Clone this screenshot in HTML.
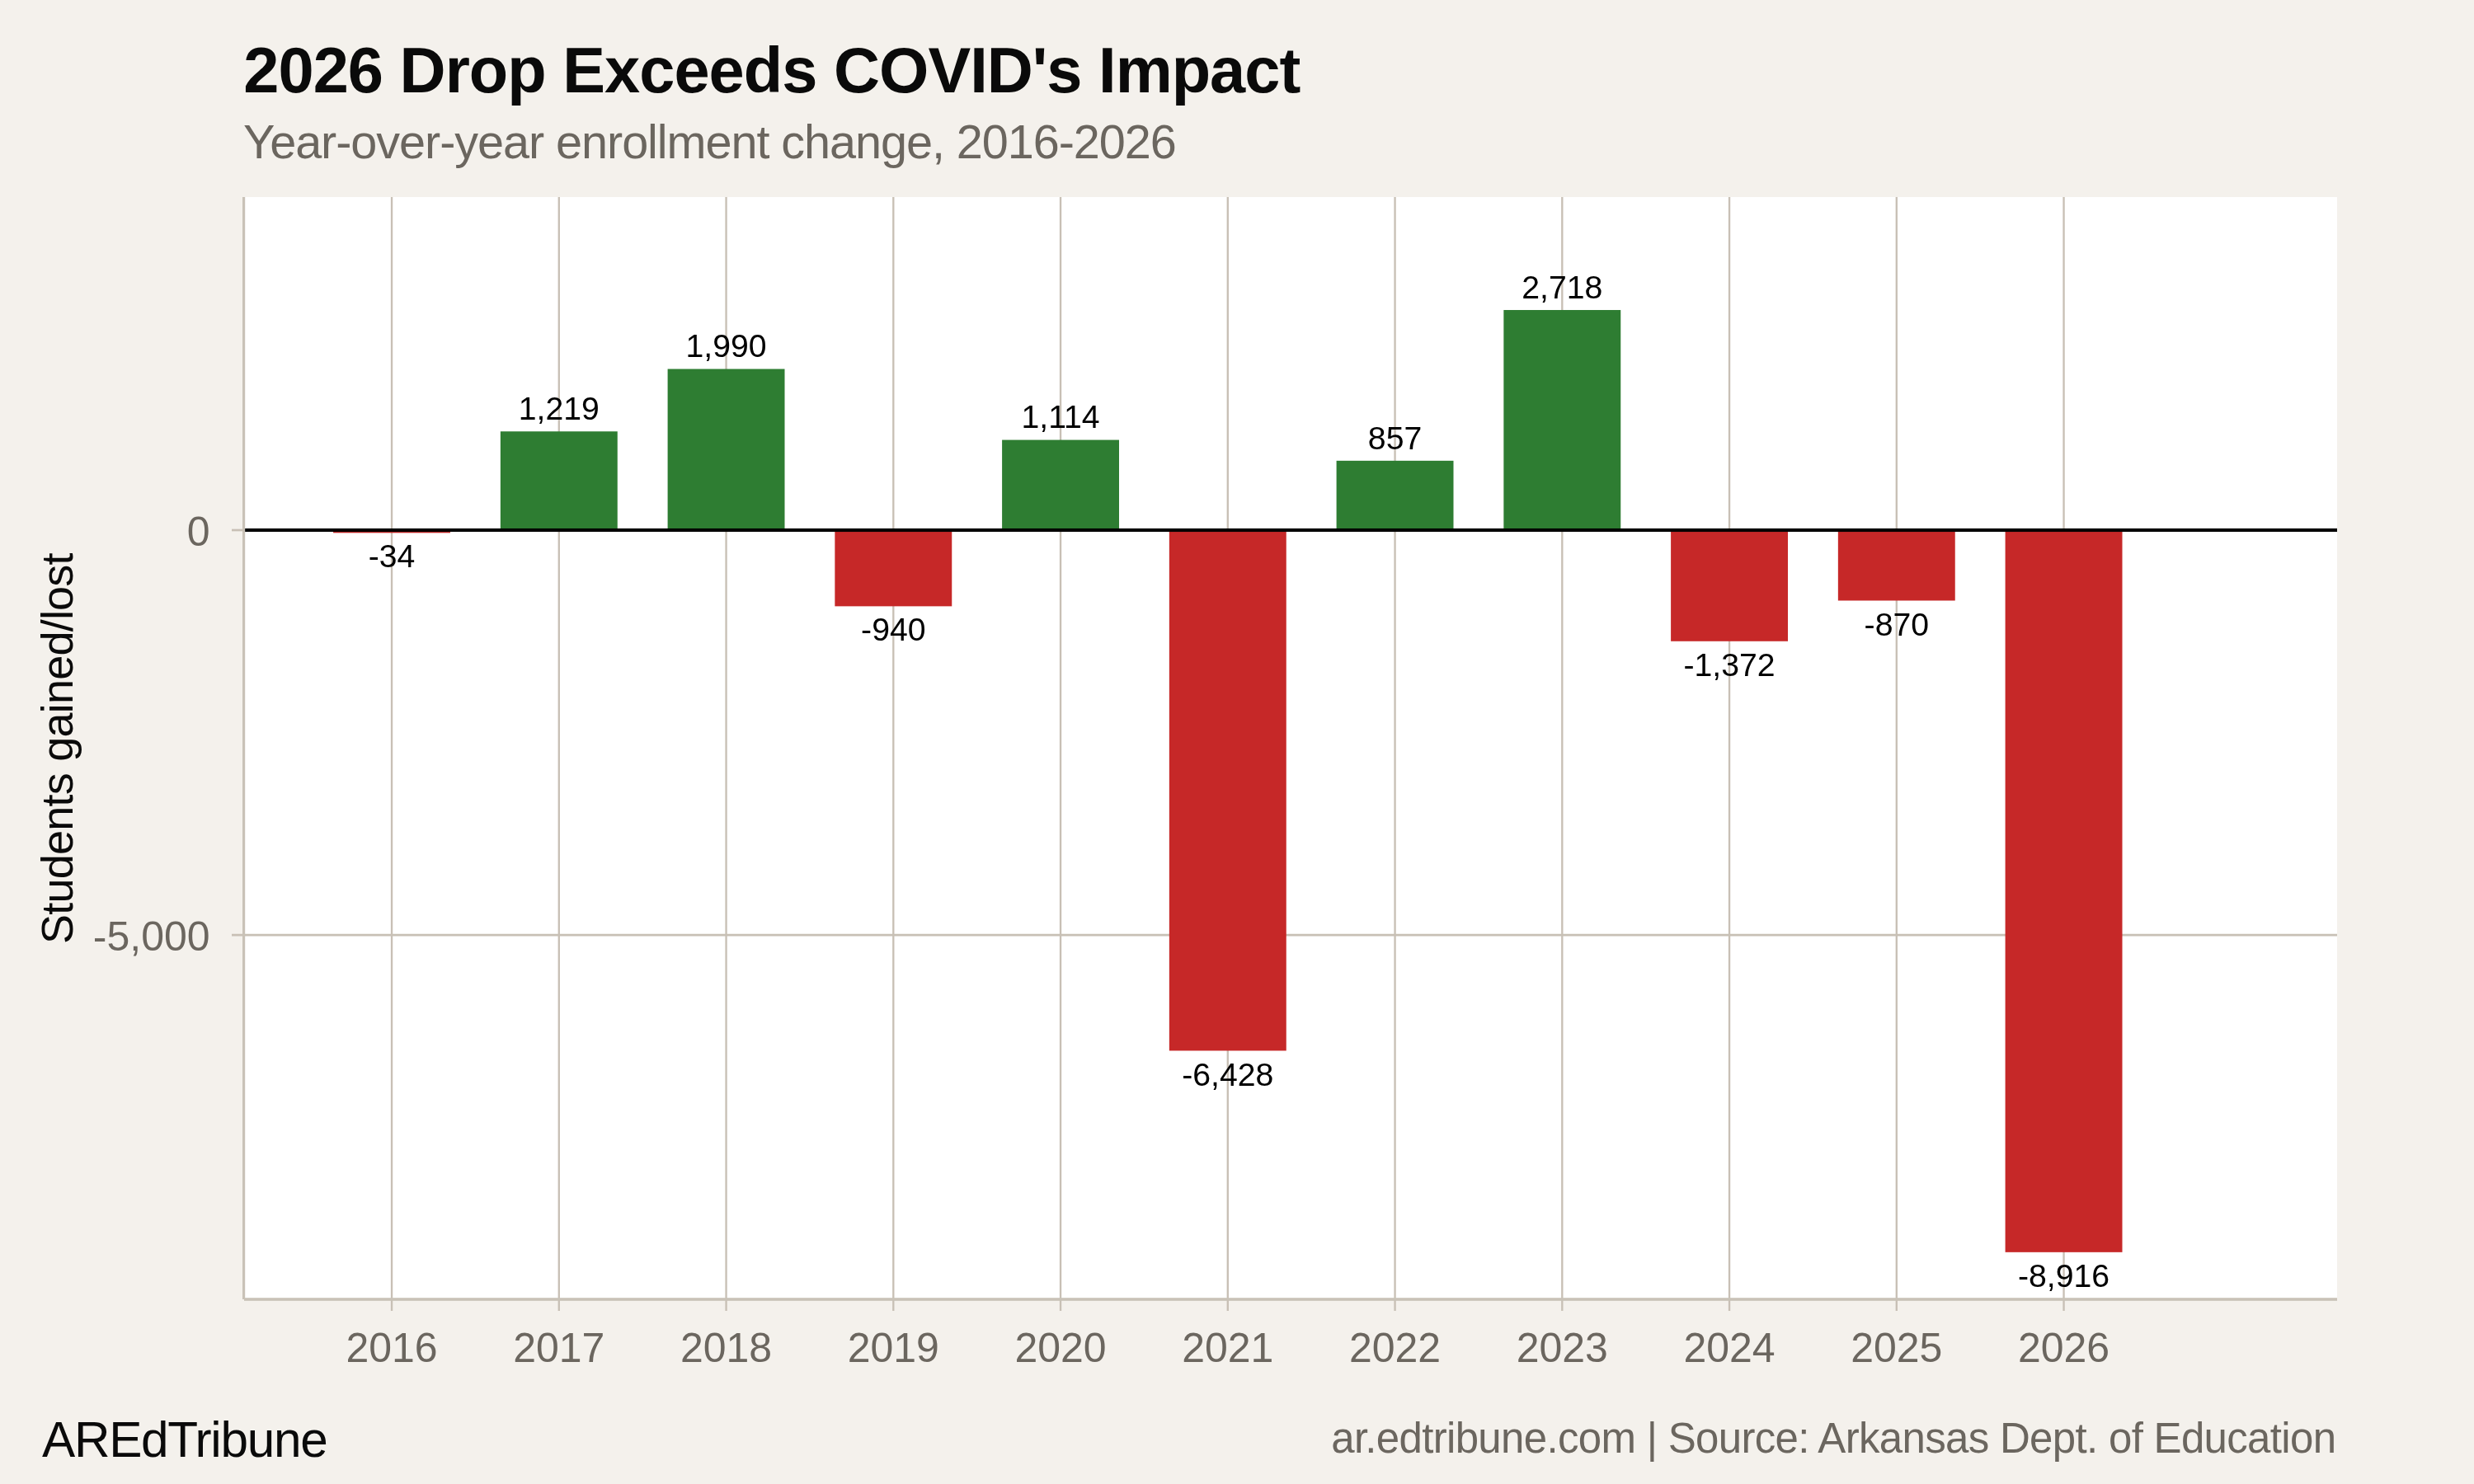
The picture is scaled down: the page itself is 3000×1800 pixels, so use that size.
<!DOCTYPE html><html><head><meta charset="utf-8"><style>html,body{margin:0;padding:0;background:#F4F1EC;overflow:hidden;}svg{display:block;will-change:transform;}text{font-family:"Liberation Sans",sans-serif;}</style></head><body>
<svg width="3000" height="1800" viewBox="0 0 3000 1800">
<rect x="0" y="0" width="3000" height="1800" fill="#F4F1EC"/>
<rect x="296" y="239" width="2538" height="1337" fill="#FFFFFF"/>
<line x1="475.05" y1="239" x2="475.05" y2="1590" stroke="#C8C0B5" stroke-width="2.35"/>
<line x1="677.80" y1="239" x2="677.80" y2="1590" stroke="#C8C0B5" stroke-width="2.35"/>
<line x1="880.55" y1="239" x2="880.55" y2="1590" stroke="#C8C0B5" stroke-width="2.35"/>
<line x1="1083.30" y1="239" x2="1083.30" y2="1590" stroke="#C8C0B5" stroke-width="2.35"/>
<line x1="1286.05" y1="239" x2="1286.05" y2="1590" stroke="#C8C0B5" stroke-width="2.35"/>
<line x1="1488.80" y1="239" x2="1488.80" y2="1590" stroke="#C8C0B5" stroke-width="2.35"/>
<line x1="1691.55" y1="239" x2="1691.55" y2="1590" stroke="#C8C0B5" stroke-width="2.35"/>
<line x1="1894.30" y1="239" x2="1894.30" y2="1590" stroke="#C8C0B5" stroke-width="2.35"/>
<line x1="2097.05" y1="239" x2="2097.05" y2="1590" stroke="#C8C0B5" stroke-width="2.35"/>
<line x1="2299.80" y1="239" x2="2299.80" y2="1590" stroke="#C8C0B5" stroke-width="2.35"/>
<line x1="2502.55" y1="239" x2="2502.55" y2="1590" stroke="#C8C0B5" stroke-width="2.35"/>
<line x1="281" y1="1134.17" x2="2834" y2="1134.17" stroke="#C8C0B5" stroke-width="2.7"/>
<line x1="281" y1="643.02" x2="296" y2="643.02" stroke="#C8C0B5" stroke-width="2.7"/>
<rect x="404.10" y="643.02" width="141.90" height="3.34" fill="#C62828"/>
<rect x="606.85" y="523.28" width="141.90" height="119.74" fill="#2E7D32"/>
<rect x="809.60" y="447.54" width="141.90" height="195.48" fill="#2E7D32"/>
<rect x="1012.35" y="643.02" width="141.90" height="92.34" fill="#C62828"/>
<rect x="1215.10" y="533.59" width="141.90" height="109.43" fill="#2E7D32"/>
<rect x="1417.85" y="643.02" width="141.90" height="631.42" fill="#C62828"/>
<rect x="1620.60" y="558.84" width="141.90" height="84.18" fill="#2E7D32"/>
<rect x="1823.35" y="376.03" width="141.90" height="266.99" fill="#2E7D32"/>
<rect x="2026.10" y="643.02" width="141.90" height="134.77" fill="#C62828"/>
<rect x="2228.85" y="643.02" width="141.90" height="85.46" fill="#C62828"/>
<rect x="2431.60" y="643.02" width="141.90" height="875.82" fill="#C62828"/>
<rect x="296" y="640.97" width="2538" height="4.1" fill="#000000"/>
<rect x="294" y="239" width="3.2" height="1337" fill="#C9C2B7"/>
<rect x="296" y="1574.2" width="2538" height="3.6" fill="#C9C2B7"/>
<text x="475.05" y="688.46" font-size="39.2" fill="#000" text-anchor="middle">-34</text>
<text x="677.80" y="509.18" font-size="39.2" fill="#000" text-anchor="middle">1,219</text>
<text x="880.55" y="433.44" font-size="39.2" fill="#000" text-anchor="middle">1,990</text>
<text x="1083.30" y="777.46" font-size="39.2" fill="#000" text-anchor="middle">-940</text>
<text x="1286.05" y="519.49" font-size="39.2" fill="#000" text-anchor="middle">1,114</text>
<text x="1488.80" y="1316.54" font-size="39.2" fill="#000" text-anchor="middle">-6,428</text>
<text x="1691.55" y="544.74" font-size="39.2" fill="#000" text-anchor="middle">857</text>
<text x="1894.30" y="361.93" font-size="39.2" fill="#000" text-anchor="middle">2,718</text>
<text x="2097.05" y="819.89" font-size="39.2" fill="#000" text-anchor="middle">-1,372</text>
<text x="2299.80" y="770.58" font-size="39.2" fill="#000" text-anchor="middle">-870</text>
<text x="2502.55" y="1560.94" font-size="39.2" fill="#000" text-anchor="middle">-8,916</text>
<text x="475.05" y="1652" font-size="50" fill="#6B665F" text-anchor="middle">2016</text>
<text x="677.80" y="1652" font-size="50" fill="#6B665F" text-anchor="middle">2017</text>
<text x="880.55" y="1652" font-size="50" fill="#6B665F" text-anchor="middle">2018</text>
<text x="1083.30" y="1652" font-size="50" fill="#6B665F" text-anchor="middle">2019</text>
<text x="1286.05" y="1652" font-size="50" fill="#6B665F" text-anchor="middle">2020</text>
<text x="1488.80" y="1652" font-size="50" fill="#6B665F" text-anchor="middle">2021</text>
<text x="1691.55" y="1652" font-size="50" fill="#6B665F" text-anchor="middle">2022</text>
<text x="1894.30" y="1652" font-size="50" fill="#6B665F" text-anchor="middle">2023</text>
<text x="2097.05" y="1652" font-size="50" fill="#6B665F" text-anchor="middle">2024</text>
<text x="2299.80" y="1652" font-size="50" fill="#6B665F" text-anchor="middle">2025</text>
<text x="2502.55" y="1652" font-size="50" fill="#6B665F" text-anchor="middle">2026</text>
<text x="254.6" y="662.1" font-size="50" fill="#6B665F" text-anchor="end">0</text>
<text x="254.6" y="1153.1" font-size="50" fill="#6B665F" text-anchor="end">-5,000</text>
<text transform="translate(87.80,907.70) rotate(-90)" x="0" y="0" font-size="54.1" fill="#0A0A0A" text-anchor="middle" textLength="474.60" lengthAdjust="spacing">Students gained/lost</text>
<text x="295.30" y="112.00" font-size="77.6" font-weight="bold" fill="#0A0A0A" textLength="1282.00" lengthAdjust="spacing">2026 Drop Exceeds COVID&#39;s Impact</text>
<text x="295.10" y="192.00" font-size="57.6" fill="#6B665F" textLength="1131.70" lengthAdjust="spacing">Year-over-year enrollment change, 2016-2026</text>
<text x="51.00" y="1767.20" font-size="60.3" fill="#0A0A0A" textLength="346.70" lengthAdjust="spacing">AREdTribune</text>
<text x="2833.00" y="1761.50" font-size="51.0" fill="#6B665F" text-anchor="end" textLength="1218.80" lengthAdjust="spacing">ar.edtribune.com | Source: Arkansas Dept. of Education</text>
</svg></body></html>
